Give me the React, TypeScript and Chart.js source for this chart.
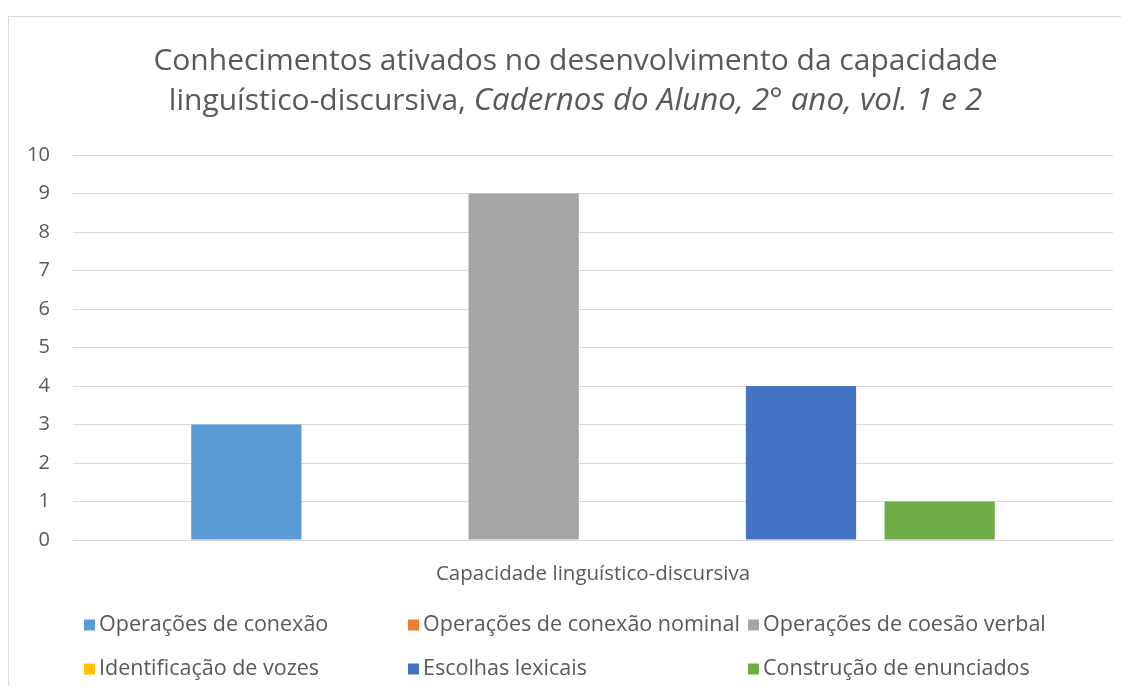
import { useEffect, useRef } from 'react';
import { Chart, registerables } from 'chart.js';

Chart.register(...registerables);

const titleLine1 = 'Conhecimentos ativados no desenvolvimento da capacidade';
const titleLine2Plain = 'linguístico-discursiva, ';
const titleLine2Italic = 'Cadernos do Aluno, 2° ano, vol. 1 e 2';

const categories = ['Capacidade linguístico-discursiva'];
const seriesNames = [
  'Operações de conexão',
  'Operações de conexão nominal',
  'Operações de coesão verbal',
  'Identificação de vozes',
  'Escolhas lexicais',
  'Construção de enunciados',
];
const seriesValues = [3, 0, 9, 0, 4, 1];
const seriesColors = ['#5B9BD5', '#ED7D31', '#A5A5A5', '#FFC000', '#4472C4', '#70AD47'];
const yMin = 0;
const yMax = 10;
const yStep = 1;

const FONT = "'Open Sans', 'Noto Sans', sans-serif";
const TEXT = '#595959';
const GRID = '#d9d9d9';

const CANVAS_W = 1133;
const CANVAS_H = 669;

const titlePlugin = {
  id: 'twoLineTitle',
  afterDraw(chart: any) {
    const ctx = chart.ctx;
    ctx.save();
    ctx.fillStyle = TEXT;
    ctx.textBaseline = 'middle';
    const cx = chart.width / 2;
    const size = 30;
    const italicSize = 31.3;
    ctx.font = `${size}px ${FONT}`;
    ctx.textAlign = 'center';
    ctx.fillText(titleLine1, cx, 44);
    ctx.textAlign = 'left';
    const w1 = ctx.measureText(titleLine2Plain).width;
    ctx.font = `italic ${italicSize}px ${FONT}`;
    const w2 = ctx.measureText(titleLine2Italic).width;
    const start = cx - (w1 + w2) / 2;
    ctx.font = `${size}px ${FONT}`;
    ctx.fillText(titleLine2Plain, start, 84);
    ctx.font = `italic ${italicSize}px ${FONT}`;
    ctx.fillText(titleLine2Italic, start + w1, 84);
    ctx.restore();
  },
};

const legendPlugin = {
  id: 'gridLegend',
  afterDraw(chart: any) {
    const ctx = chart.ctx;
    const colX = [75, 399, 739];
    const rowY = [608, 652];
    const box = 11;
    ctx.save();
    ctx.font = `21.5px ${FONT}`;
    ctx.textBaseline = 'middle';
    ctx.textAlign = 'left';
    chart.data.datasets.forEach((ds: any, i: number) => {
      const x = colX[i % 3];
      const y = rowY[Math.floor(i / 3)];
      ctx.fillStyle = ds.backgroundColor;
      ctx.fillRect(x, y - box / 2, box, box);
      ctx.fillStyle = TEXT;
      ctx.fillText(ds.label, x + box + 4, y);
    });
    ctx.restore();
  },
};

export default function App() {
  const canvasRef = useRef<HTMLCanvasElement | null>(null);

  useEffect(() => {
    if (!canvasRef.current) return;
    const chart = new Chart(canvasRef.current, {
      type: 'bar',
      data: {
        labels: categories,
        datasets: seriesNames.map((name, i) => ({
          label: name,
          data: [seriesValues[i]],
          backgroundColor: seriesColors[i],
          borderWidth: 0,
          categoryPercentage: 0.8,
          barPercentage: 0.795,
        })),
      },
      options: {
        animation: false,
        responsive: false,
        devicePixelRatio: 1,
        layout: { padding: { top: 138, left: 0, right: 29, bottom: 96 } },
        plugins: {
          legend: { display: false },
          title: { display: false },
          tooltip: { enabled: false },
        },
        scales: {
          x: {
            afterFit: (scale: any) => {
              scale.height = 50;
            },
            grid: { display: false },
            border: { display: true, color: GRID, width: 1 },
            ticks: {
              color: TEXT,
              font: { family: FONT, size: 20.5 },
              padding: 14,
            },
          },
          y: {
            min: yMin,
            max: yMax,
            afterFit: (scale: any) => {
              scale.width = 64;
            },
            grid: { color: GRID, lineWidth: 1, drawTicks: false },
            border: { display: false },
            ticks: {
              stepSize: yStep,
              color: TEXT,
              font: { family: FONT, size: 20 },
              padding: 23,
            },
          },
        },
      },
      plugins: [titlePlugin, legendPlugin],
    });
    return () => chart.destroy();
  }, []);

  return (
    <div style={{ width: 1121, height: 678, paddingTop: 8, boxSizing: 'border-box', overflow: 'hidden' }}>
      <div
        style={{
          width: 1160,
          height: 700,
          borderTop: `1px solid ${GRID}`,
          borderLeft: `1px solid ${GRID}`,
        }}
      >
        <canvas
          ref={canvasRef}
          width={CANVAS_W}
          height={CANVAS_H}
          style={{ display: 'block', width: CANVAS_W, height: CANVAS_H }}
        />
      </div>
    </div>
  );
}
